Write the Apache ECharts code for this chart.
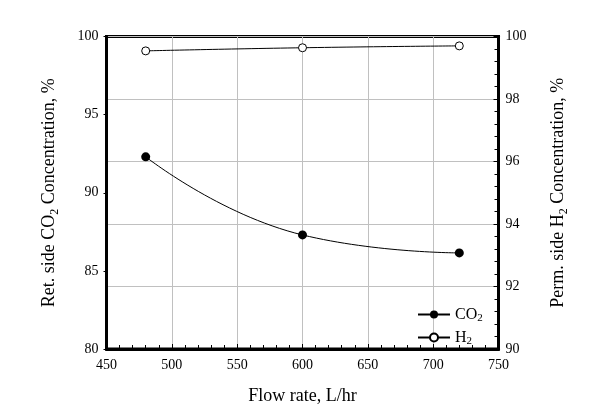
<!DOCTYPE html>
<html><head><meta charset="utf-8">
<script src="https://cdn.jsdelivr.net/npm/echarts@6/dist/echarts.min.js"></script>
<style>html,body{margin:0;padding:0;background:#fff}#c{width:600px;height:417px}</style>
</head><body><div id="c"></div>
<script>
const flowRate = [480, 600, 720];
const co2 = [92.3, 87.3, 86.15];
const h2 = [99.54, 99.64, 99.7];
const xTicks = {min: 450, max: 750, interval: 50};
const leftTicks = {min: 80, max: 100, interval: 5};
const rightTicks = {min: 90, max: 100, interval: 2};

const font = 'Liberation Serif';
const rich = {
  sub: {fontFamily: font, fontSize: 12, lineHeight: 12, verticalAlign: 'bottom', color: '#000'}
};
const chart = echarts.init(document.getElementById('c'), null, {renderer: 'canvas'});
chart.setOption({
  animation: false,
  backgroundColor: '#fff',
  grid: {left: 106.5, right: 101.5, top: 36.5, bottom: 68, show: true, borderColor: '#000', borderWidth: 3, containLabel: false},
  legend: {
    left: 417, top: 305, orient: 'vertical', itemWidth: 32, itemHeight: 10, itemGap: 4, padding: 0,
    textStyle: {fontFamily: font, fontSize: 16, lineHeight: 19, color: '#000',
      rich: {sub: {fontFamily: font, fontSize: 11, lineHeight: 11, verticalAlign: 'bottom', color: '#000'}}},
    formatter: n => n === 'CO2' ? 'CO{sub|2}' : 'H{sub|2}',
    data: ['CO2', 'H2']
  },
  xAxis: {
    type: 'value', min: xTicks.min, max: xTicks.max, interval: xTicks.interval,
    name: 'Flow rate, L/hr', nameLocation: 'middle', nameGap: 38,
    nameTextStyle: {fontFamily: font, fontSize: 18, color: '#000'},
    axisLine: {lineStyle: {color: '#000', width: 3}},
    axisTick: {inside: true, length: 5, lineStyle: {color: '#000', width: 1}},
    minorTick: {show: true, splitNumber: 5, length: 4, lineStyle: {color: '#000', width: 1}},
    axisLabel: {fontFamily: font, fontSize: 14, color: '#000', margin: 9},
    splitLine: {show: true, lineStyle: {color: '#c0c0c0', width: 1}}
  },
  yAxis: [{
    type: 'value', position: 'left', min: leftTicks.min, max: leftTicks.max, interval: leftTicks.interval,
    name: 'Ret. side CO{sub|2} Concentration, %', nameLocation: 'middle', nameGap: 46, nameRotate: 90,
    nameTextStyle: {fontFamily: font, fontSize: 18, lineHeight: 22, color: '#000', rich: rich},
    axisLine: {show: true, lineStyle: {color: '#000', width: 3}},
    axisTick: {show: true, inside: false, length: 3, lineStyle: {color: '#000'}},
    axisLabel: {fontFamily: font, fontSize: 14, color: '#000', margin: 8},
    splitLine: {show: false}
  }, {
    type: 'value', position: 'right', min: rightTicks.min, max: rightTicks.max, interval: rightTicks.interval,
    name: 'Perm. side H{sub|2} Concentration, %', nameLocation: 'middle', nameGap: 49, nameRotate: 90,
    nameTextStyle: {fontFamily: font, fontSize: 18, lineHeight: 22, color: '#000', rich: rich},
    axisLine: {show: true, lineStyle: {color: '#000', width: 3}},
    axisTick: {show: true, inside: true, length: 5, lineStyle: {color: '#000'}},
    minorTick: {show: true, splitNumber: 5, length: 4, lineStyle: {color: '#000'}},
    axisLabel: {fontFamily: font, fontSize: 14, color: '#000', margin: 7},
    splitLine: {show: true, lineStyle: {color: '#c0c0c0', width: 1}}
  }],
  series: [{
    name: 'CO2', type: 'line', yAxisIndex: 0, smooth: 0.5,
    data: flowRate.map((x, i) => [x, co2[i]]),
    symbol: 'circle', symbolSize: 9,
    itemStyle: {color: '#000'}, lineStyle: {color: '#000', width: 1}
  }, {
    name: 'H2', type: 'line', yAxisIndex: 1, smooth: 0.5,
    data: flowRate.map((x, i) => [x, h2[i]]),
    symbol: 'circle', symbolSize: 8,
    itemStyle: {color: '#fff', borderColor: '#000', borderWidth: 1}, lineStyle: {color: '#000', width: 1}
  }]
});
</script></body></html>
